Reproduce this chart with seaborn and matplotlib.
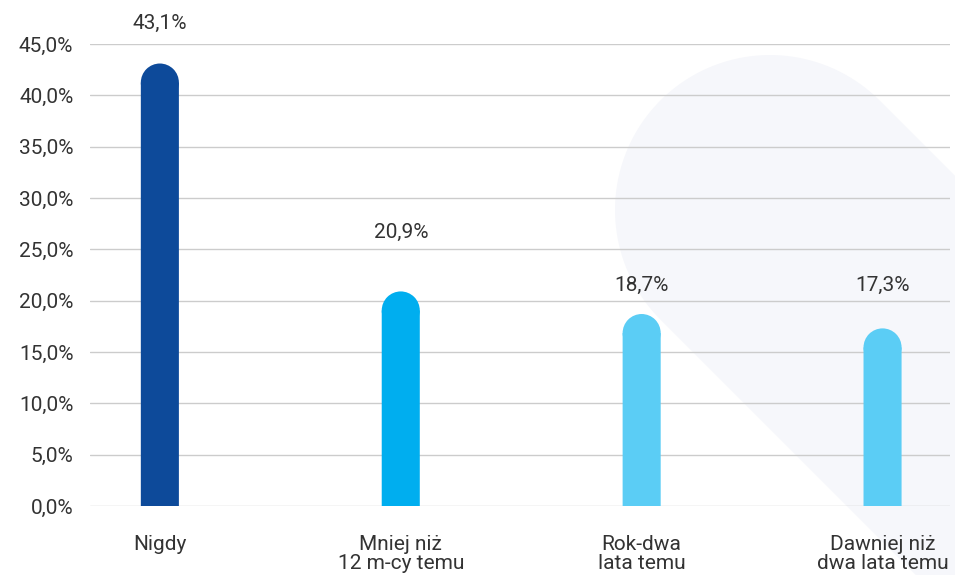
import numpy as np
import pandas as pd
import matplotlib
matplotlib.use("Agg")
import matplotlib.pyplot as plt
from matplotlib.patches import Ellipse, Polygon
import seaborn as sns

# data
categories = ["Nigdy", "Mniej niż\n12 m-cy temu", "Rok-dwa\nlata temu", "Dawniej niż\ndwa lata temu"]
values = [43.1, 20.9, 18.7, 17.3]
value_labels = ["43,1%", "20,9%", "18,7%", "17,3%"]
bar_colors = ["#0D4A9A", "#00AEEF", "#5BCDF5", "#5BCDF5"]
y_ticks = [0, 5, 10, 15, 20, 25, 30, 35, 40, 45]

sns.set_style("white")
plt.rcParams["font.family"] = ["Roboto", "DejaVu Sans"]
text_col = "#333333"
fs = 15

W, H = 955, 575
fig = plt.figure(figsize=(W / 100, H / 100), dpi=100)

# decorative pin shape in the background (pixel coords -> figure fraction)
cx, cy, r = 770, 210, 155
ang = np.linspace(np.deg2rad(-45), np.deg2rad(-225), 80)  # around the top, image coords
arc = [(cx + r * np.cos(a), cy + r * np.sin(a)) for a in ang]
ext = 400
pts = arc + [(arc[-1][0] + ext, arc[-1][1] + ext), (arc[0][0] + ext, arc[0][1] + ext)]
pts = [(x / W, 1 - y / H) for x, y in pts]
fig.patches.append(Polygon(pts, closed=True, transform=fig.transFigure,
                           facecolor="#F6F7FB", edgecolor="none", zorder=-5))

ax = fig.add_axes([90 / W, 1 - 506 / H, 860 / W, 462 / H])
ax.set_facecolor("none")
ax.set_xlim(-0.29, 3.28)
ax.set_ylim(0, 45)

bar_w = 0.158
# rounded cap: radius in px = half bar width, converted to data units on y
px_per_x = ax.transData.transform((1, 0))[0] - ax.transData.transform((0, 0))[0]
px_per_y = ax.transData.transform((0, 1))[1] - ax.transData.transform((0, 0))[1]
cap_h = (bar_w * px_per_x / 2) / px_per_y

df = pd.DataFrame({"cat": categories, "val": values})
df["body"] = df["val"] - cap_h
sns.barplot(data=df, x="cat", y="body", hue="cat", palette=bar_colors,
            width=bar_w, legend=False, ax=ax, saturation=1, zorder=3)
ax.set_xlim(-0.29, 3.28)
ax.set_ylim(0, 45)

for p, c in zip(list(ax.patches), bar_colors):
    p.set_snap(False)
    p.set_linewidth(0)
    xc = p.get_x() + p.get_width() / 2
    cap = Ellipse((xc, p.get_height()), p.get_width(), 2 * cap_h,
                  facecolor=c, edgecolor="none", linewidth=0, zorder=3)
    cap.set_snap(False)
    ax.add_patch(cap)

# value labels (per-bar pixel offsets above bar top, as in reference)
offsets = [40, 59, 29, 43]
for i, (v, lab) in enumerate(zip(values, value_labels)):
    ax.annotate(lab, (i, v), xytext=(0, offsets[i] * 0.72), textcoords="offset points",
                ha="center", va="center", fontsize=fs, color=text_col, annotation_clip=False)

ax.set_yticks(y_ticks)
ax.set_yticklabels([f"{t:.1f}%".replace(".", ",") for t in y_ticks])
ax.yaxis.grid(True, color="#CCCCCC", linewidth=1)
ax.set_axisbelow(True)
ax.tick_params(axis="y", length=0, pad=12, labelsize=fs, labelcolor=text_col)
ax.tick_params(axis="x", length=0, pad=21, labelsize=fs, labelcolor=text_col)
for lbl in ax.get_xticklabels():
    lbl.set_linespacing(1.0)
ax.set_xlabel("")
ax.set_ylabel("")
sns.despine(ax=ax, left=True, bottom=True)

fig.savefig("out.png", dpi=100)
